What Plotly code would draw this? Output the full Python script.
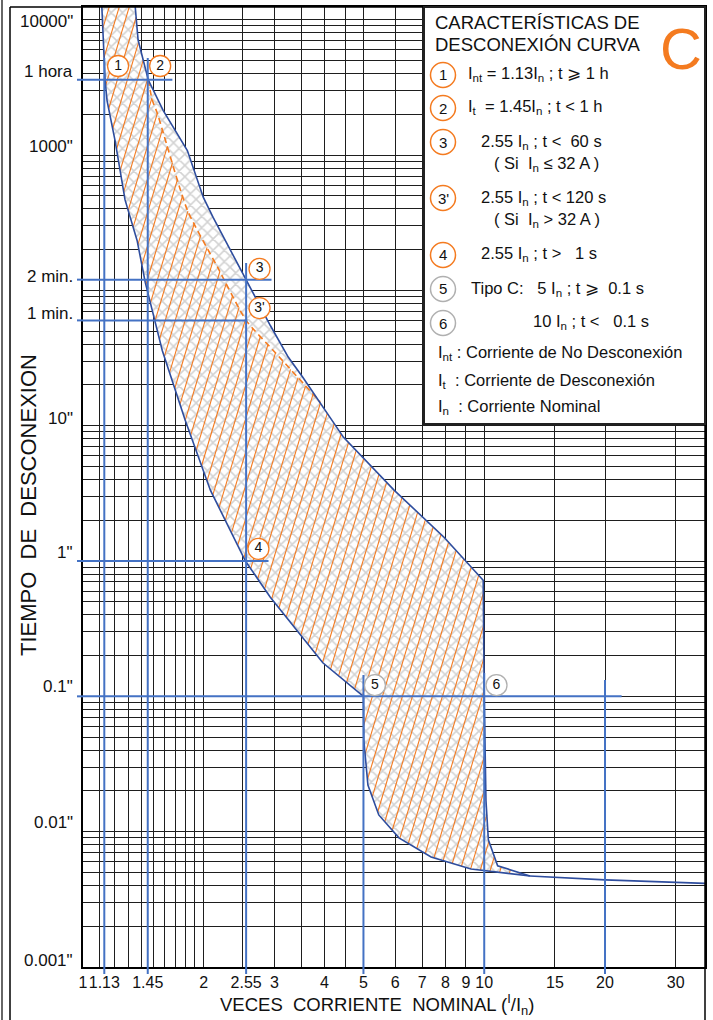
import numpy as np
import plotly.graph_objects as go

# ---------------- data ----------------
# left boundary of the band (no-trip curve), top -> bottom, up to where both curves meet
left_x = [1.114, 1.135, 1.148, 1.202, 1.273, 1.364, 1.429, 1.513, 1.576, 1.797, 2.077, 2.54,
          2.93, 3.96, 5.0, 5.01, 5.13, 5.46, 6.13, 7.37, 9.27, 13.0]
left_y = [12600, 3600, 2525, 1280, 466, 234, 115, 60, 36, 11, 3.34, 1.0,
          0.54, 0.177, 0.1, 0.0476, 0.0221, 0.0133, 0.009, 0.0065, 0.0053, 0.0047]
# right boundary (trip curve), top -> bottom, up to the meeting point
right_x = [1.349, 1.372, 1.454, 1.585, 1.82, 1.995, 2.11, 2.33, 2.57, 2.93, 3.25, 3.53, 4.46,
           5.96, 7.94, 9.94, 10.0, 10.06, 10.1, 10.24, 10.8, 13.0]
right_y = [12600, 7080, 3600, 2130, 1080, 486, 346, 197, 115, 55, 32, 22.8, 8.2,
           3.34, 1.5, 0.72, 0.1, 0.034, 0.017, 0.0087, 0.0056, 0.0047]
# dashed curve (In > 32 A)
dash_x = [1.454, 1.488, 1.531, 1.82, 2.163, 2.55, 2.98, 3.9]
dash_y = [3600, 2550, 2044, 392, 149, 60, 36, 15]
# common tail (instantaneous region)
tail_x = [13.0, 20, 35.5]
tail_y = [0.0047, 0.0044, 0.00415]

# blue reference lines
vline_x = [1.13, 1.45, 2.55, 5, 10, 20]
vline_top = [5210, 5210, 159, 0.144, 0.149, 0.132]
hline_y = [3600, 120, 60, 1, 0.1]
hline_end = [1.67, 2.95, 2.57, 2.9, 22.0]

# grid
xgrid = [1.1, 1.2, 1.3, 1.4, 1.5, 1.6, 1.7, 1.8, 1.9, 2, 2.5, 3, 3.5, 4, 4.5, 5, 6, 7, 8, 9, 10, 15, 20, 30]
ygrid = [m * 10.0 ** k for k in range(-3, 5) for m in range(1, 10)]

# tick labels
xtick_vals = [1, 1.13, 1.45, 2, 2.55, 3, 4, 5, 6, 7, 8, 9, 10, 15, 20, 30]
xtick_text = ["1", "1.13", "1.45", "2", "2.55", "3", "4", "5", "6", "7", "8", "9", "10", "15", "20", "30"]
ylab_vals = [10000, 3600, 1000, 120, 60, 10, 1, 0.1, 0.01, 0.001]
ylab_text = ['10000"', "1 hora", '1000"', "2 min.", "1 min.", '10"', '1"', '0.1"', '0.01"', '0.001"']

# numbered markers on the chart
mark_x = [1.223, 1.557, 2.754, 2.754, 2.737, 5.34, 10.73]
mark_y = [4550, 4550, 144, 74, 1.23, 0.121, 0.121]
mark_txt = ["1", "2", "3", "3'", "4", "5", "6"]

# ---------------- layout constants ----------------
W, H = 713, 1020
ML, MR, MT, MB = 83, 8, 7, 53
PW, PH = W - ML - MR, H - MT - MB
XR = [0.0, float(np.log10(35.5))]
YR = [-3.0, 4.094]
SX = PW / (XR[1] - XR[0])
SY = PH / (YR[1] - YR[0])
FONT = "Liberation Sans, Arial, sans-serif"
ORANGE = "#F47B20"
BLUE = "#4472C4"
DARKBLUE = "#2E4D9E"
GRAYC = "#B0B0B0"
GRID = "#1e1e1e"


def px2x(px):
    return (px - ML) / PW


def py2y(py):
    return (H - MB - py) / PH


def hatch(px_, py_, step=10.0, k=0.3):
    X = np.log10(np.array(px_, float)) * SX
    Y = np.log10(np.array(py_, float)) * SY
    U = X - k * Y
    xs, ys = [], []
    n = len(X)
    for c in np.arange(np.floor(U.min() / step) * step, U.max(), step):
        pts = []
        for i in range(n):
            j = (i + 1) % n
            u1, u2 = U[i] - c, U[j] - c
            if (u1 < 0) != (u2 < 0):
                t = u1 / (u1 - u2)
                pts.append(Y[i] + t * (Y[j] - Y[i]))
        pts.sort()
        for a, b in zip(pts[0::2], pts[1::2]):
            for yy in (a, b):
                xs.append(10 ** ((c + k * yy) / SX))
                ys.append(10 ** (yy / SY))
            xs.append(None)
            ys.append(None)
    return xs, ys


fig = go.Figure()

# band (gray cross-hatch on white)
band_x = left_x + right_x[::-1]
band_y = left_y + right_y[::-1]
fig.add_trace(go.Scatter(x=band_x, y=band_y, mode="lines", fill="toself",
                         line=dict(width=0), fillcolor="white",
                         fillpattern=dict(shape="x", fgcolor="#A6A6A6", bgcolor="white",
                                          size=8, solidity=0.35),
                         hoverinfo="skip", showlegend=False))

# orange hatch region (left of the dashed curve)
rt = [(x, y) for x, y in zip(right_x, right_y) if y > dash_y[0]]
rb = [(x, y) for x, y in zip(right_x, right_y) if y < dash_y[-1]]
org_x = left_x + [p[0] for p in rb[::-1]] + dash_x[::-1] + [p[0] for p in rt[::-1]]
org_y = left_y + [p[1] for p in rb[::-1]] + dash_y[::-1] + [p[1] for p in rt[::-1]]
hx, hy = hatch(org_x, org_y)
fig.add_trace(go.Scatter(x=hx, y=hy, mode="lines", line=dict(color=ORANGE, width=1.1),
                         hoverinfo="skip", showlegend=False))

# dashed curve
fig.add_trace(go.Scatter(x=dash_x, y=dash_y, mode="lines",
                         line=dict(color=ORANGE, width=1.6, dash="6px,4px", shape="spline", smoothing=0.6),
                         hoverinfo="skip", showlegend=False))

# boundaries
for xs, ys in ((left_x, left_y), (right_x, right_y), (tail_x, tail_y)):
    fig.add_trace(go.Scatter(x=xs, y=ys, mode="lines",
                             line=dict(color=DARKBLUE, width=1.6),
                             hoverinfo="skip", showlegend=False))

# blue reference lines
bx, by = [], []
for x, t in zip(vline_x, vline_top):
    bx += [x, x, None]
    by += [t, 10 ** YR[0], None]
for y, e in zip(hline_y, hline_end):
    bx += [1.0, e, None]
    by += [y, y, None]
fig.add_trace(go.Scatter(x=bx, y=by, mode="lines", line=dict(color=BLUE, width=2),
                         hoverinfo="skip", showlegend=False))

# numbered circles
mcol = [ORANGE] * 5 + [GRAYC] * 2
fig.add_trace(go.Scatter(x=mark_x, y=mark_y, mode="markers+text", text=mark_txt,
                         textposition="middle center",
                         textfont=dict(family=FONT, size=14, color="#111"),
                         marker=dict(size=21, color="white", line=dict(color=mcol, width=1.3)),
                         hoverinfo="skip", showlegend=False, cliponaxis=False))

shapes = []
# stubs of blue lines outside the plot
for x in vline_x:
    xp = np.log10(x) / XR[1]
    shapes.append(dict(type="line", xref="paper", yref="paper", x0=xp, x1=xp,
                       y0=-7 / PH, y1=0, line=dict(color=BLUE, width=2), layer="above"))
for y in hline_y:
    yp = (np.log10(y) - YR[0]) / (YR[1] - YR[0])
    shapes.append(dict(type="line", xref="paper", yref="paper", x0=-6 / PW, x1=0,
                       y0=yp, y1=yp, line=dict(color=BLUE, width=2), layer="above"))

# frame
shapes += [
    dict(type="line", xref="paper", yref="paper", x0=px2x(10), x1=px2x(10), y0=py2y(1020), y1=py2y(7),
         line=dict(color="black", width=1.5), layer="above"),
    dict(type="line", xref="paper", yref="paper", x0=px2x(10), x1=px2x(705), y0=py2y(7), y1=py2y(7),
         line=dict(color="black", width=1.5), layer="above"),
    dict(type="line", xref="paper", yref="paper", x0=px2x(705), x1=px2x(705), y0=py2y(1020), y1=py2y(7),
         line=dict(color="black", width=1.5), layer="above"),
    dict(type="line", xref="paper", yref="paper", x0=px2x(2), x1=px2x(2), y0=py2y(1020), y1=py2y(0),
         line=dict(color="black", width=1.2), layer="above"),
]
# legend box
shapes.append(dict(type="rect", xref="paper", yref="paper", x0=px2x(424), x1=px2x(705),
                   y0=py2y(424), y1=py2y(7), fillcolor="white",
                   line=dict(color="#222", width=2), layer="above"))

annotations = []


def ann(text, px, py, size=16, anchor="left", color="#111", **kw):
    annotations.append(dict(text=text, x=px2x(px), y=py2y(py), xref="paper", yref="paper",
                            xanchor=anchor, yanchor="middle", showarrow=False,
                            font=dict(family=FONT, size=size, color=color), **kw))


# legend circles
leg_circ = [("1", 75, ORANGE), ("2", 108, ORANGE), ("3", 142, ORANGE), ("3'", 198, ORANGE),
            ("4", 255, ORANGE), ("5", 289, GRAYC), ("6", 323, GRAYC)]
r = 12.5
for t, cy, col in leg_circ:
    shapes.append(dict(type="circle", xref="paper", yref="paper",
                       x0=px2x(443 - r), x1=px2x(443 + r), y0=py2y(cy + r), y1=py2y(cy - r),
                       fillcolor="white", line=dict(color=col, width=1.5), layer="above"))
    ann(t, 443, cy, size=15, anchor="center")

NB = "\u00a0"
LS = 16.5
ann("CARACTERÍSTICAS DE", 433, 22, size=18.5)
ann("DESCONEXIÓN CURVA", 433, 45, size=18.5)
ann("C", 681, 48, size=58, anchor="center", color=ORANGE)
ann("I<sub>nt</sub> = 1.13I<sub>n</sub> ; t ⩾ 1 h", 466, 74, size=LS)
ann("I<sub>t</sub>" + NB * 2 + "= 1.45I<sub>n</sub> ; t &lt; 1 h", 466, 107, size=LS)
ann("2.55 I<sub>n</sub> ; t &lt;" + NB * 2 + "60 s", 479, 142, size=LS)
ann("(" + NB + "Si" + NB * 2 + "I<sub>n</sub> ≤ 32 A )", 492, 164, size=LS)
ann("2.55 I<sub>n</sub> ; t &lt; 120 s", 479, 198, size=LS)
ann("(" + NB + "Si" + NB * 2 + "I<sub>n</sub> &gt; 32 A )", 492, 220, size=LS)
ann("2.55 I<sub>n</sub> ; t &gt;" + NB * 3 + "1 s", 479, 254, size=LS)
ann("Tipo C:" + NB * 3 + "5 I<sub>n</sub> ; t ⩾" + NB * 2 + "0.1 s", 469, 289, size=LS)
ann("10 I<sub>n</sub> ; t &lt;" + NB * 3 + "0.1 s", 531, 322, size=LS)
ann("I<sub>nt</sub> : Corriente de No Desconexión", 436, 353, size=LS)
ann("I<sub>t</sub>" + NB * 2 + ": Corriente de Desconexión", 436, 381, size=LS)
ann("I<sub>n</sub>" + NB * 2 + ": Corriente Nominal", 436, 407, size=LS)

# y labels (sit just above their line)
yshift = [-2, 8, 9, 3, 7, 7, 9, 10, 9, 7]
for v, t, s in zip(ylab_vals, ylab_text, yshift):
    annotations.append(dict(text=t, x=0, xref="paper", xshift=-8, xanchor="right",
                            y=float(np.log10(v)), yref="y", yshift=s, yanchor="middle",
                            showarrow=False, font=dict(family=FONT, size=17, color="#111")))

# axis titles
ann("TIEMPO" + NB * 2 + "DE" + NB * 2 + "DESCONEXION", 28, 505, size=22, anchor="center", textangle=-90)
ann("VECES" + NB * 2 + "CORRIENTE" + NB * 2 + "NOMINAL (<sup>I</sup>/I<sub>n</sub>)", 377, 1004,
    size=18.5, anchor="center")

fig.update_layout(
    width=W, height=H, margin=dict(l=ML, r=MR, t=MT, b=MB, autoexpand=False),
    paper_bgcolor="white", plot_bgcolor="white", showlegend=False,
    shapes=shapes, annotations=annotations,
    xaxis=dict(type="log", range=XR, tickmode="array", tickvals=xtick_vals, ticktext=xtick_text,
               tickangle=0, showgrid=False, ticks="", showline=True, linecolor="black", linewidth=2,
               mirror=True, tickfont=dict(family=FONT, size=16, color="#111"), zeroline=False,
               minor=dict(tickmode="array", tickvals=xgrid, showgrid=True, gridcolor=GRID,
                          gridwidth=1, ticks="")),
    yaxis=dict(type="log", range=YR, tickmode="array", tickvals=ygrid, showticklabels=False,
               showgrid=True, gridcolor=GRID, gridwidth=1, ticks="",
               showline=True, linecolor="black", linewidth=2, mirror=True, zeroline=False),
)

fig.write_html("out.html", config={"displayModeBar": False},
               post_script="document.body.style.margin='0px';")
